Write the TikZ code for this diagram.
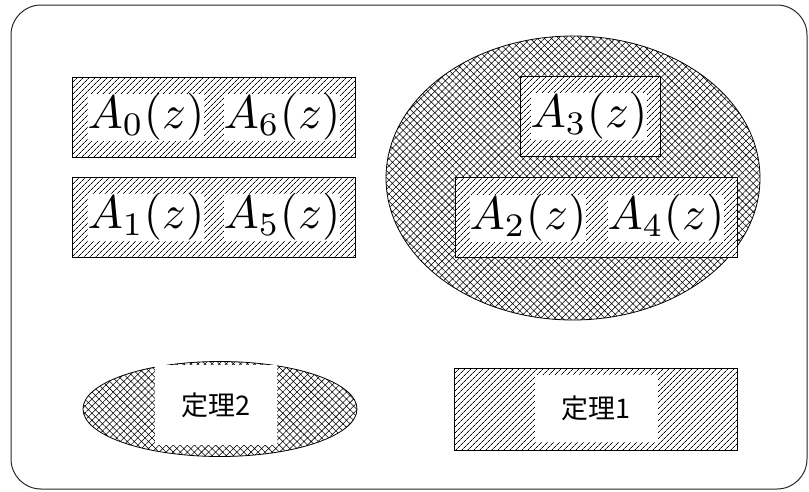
\documentclass[tikz,border=0pt]{standalone}
\usepackage{fontspec}
\newfontfamily\cjk{Noto Sans CJK JP}
\usetikzlibrary{patterns.meta,shapes.geometric}
\newcommand{\mlbl}[1]{\scalebox{4.7}{$#1$}}
\tikzset{
 hatchbox/.style={draw=black, line width=0.8pt, rectangle, inner sep=0pt,
   preaction={fill=white},
   pattern={Lines[angle=45,distance=4pt,line width=0.75pt]}},
 crossell/.style={draw=black, line width=0.8pt, ellipse, inner sep=0pt,
   preaction={fill=white},
   pattern={Hatch[angle=45,distance=5pt,line width=0.55pt]}},
 mathlbl/.style={fill=white, inner sep=0pt},
 cjklbl/.style={fill=white, inner sep=0pt, font=\cjk\fontsize{27}{30}\selectfont},
 frame/.style={draw=black!85, line width=1pt, rounded corners=30pt},
}
\begin{document}
\begin{tikzpicture}[x=1pt,y=-1pt]
\useasboundingbox (0,0) rectangle (809,491);
\coordinate (fa) at (11,5);
\coordinate (fb) at (807,489);
\draw[frame] (fa) rectangle (fb);

\node[hatchbox, minimum width=283pt, minimum height=80pt] (b06) at (213.5,117) {};
\node[hatchbox, minimum width=283pt, minimum height=80pt] (b15) at (213.5,217) {};
\node[mathlbl] (a0) at (146,117) {\mlbl{A_0(z)}};
\node[mathlbl] (a6) at (282,117) {\mlbl{A_6(z)}};
\node[mathlbl] (a1) at (146,217) {\mlbl{A_1(z)}};
\node[mathlbl] (a5) at (282,217) {\mlbl{A_5(z)}};

\node[crossell, minimum width=374pt, minimum height=284pt] (bigell) at (573,178) {};
\node[hatchbox, minimum width=140pt, minimum height=80pt] (b3) at (590,116) {};
\node[hatchbox, minimum width=282pt, minimum height=80pt] (b24) at (596,217) {};
\node[mathlbl] (a3) at (589,116) {\mlbl{A_3(z)}};
\node[mathlbl] (a2) at (528,218) {\mlbl{A_2(z)}};
\node[mathlbl] (a4) at (666,218) {\mlbl{A_4(z)}};

\node[crossell, minimum width=274pt, minimum height=95pt] (smell) at (220,409) {};
\node[cjklbl, minimum width=122pt, minimum height=80pt] (t2) at (216,405) {定理2};

\node[hatchbox, minimum width=283pt, minimum height=82pt] (b1) at (595.5,409) {};
\node[cjklbl, minimum width=123pt, minimum height=67pt] (t1) at (596,408) {定理1};
\end{tikzpicture}
\end{document}
